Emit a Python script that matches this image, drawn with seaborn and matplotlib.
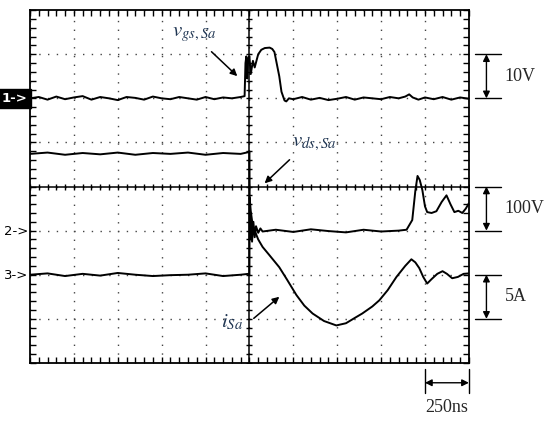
import numpy as np
import pandas as pd
import matplotlib
matplotlib.use('Agg')
import matplotlib.pyplot as plt
from matplotlib.ticker import MultipleLocator
import seaborn as sns

# oscilloscope traces, in screen divisions (x: -5..5, y: -4..4)
vgs_t = [-5.0, -4.8, -4.6, -4.4, -4.2, -4.0, -3.8, -3.6, -3.4, -3.2, -3.0, -2.8, -2.6,
         -2.4, -2.2, -2.0, -1.8, -1.6, -1.4, -1.2, -1.0, -0.8, -0.6, -0.4, -0.2,
         -0.11, -0.09, -0.07, -0.05, -0.03, 0.0, 0.03, 0.08, 0.12, 0.2, 0.27, 0.35,
         0.46, 0.52, 0.57, 0.62, 0.68, 0.73, 0.8, 0.84, 0.9, 1.0, 1.2, 1.4, 1.6, 1.8,
         2.0, 2.2, 2.4, 2.6, 2.8, 3.0, 3.2, 3.4, 3.55, 3.64, 3.72, 3.85, 4.0, 4.2,
         4.4, 4.6, 4.8, 5.0]
vgs_v = [2.0, 2.03, 1.97, 2.04, 1.98, 2.02, 2.05, 1.97, 2.03, 2.0, 1.96, 2.03, 2.01,
         1.97, 2.04, 2.0, 1.98, 2.03, 2.0, 1.97, 2.03, 1.98, 2.02, 2.0, 2.03,
         2.05, 2.8, 2.95, 2.45, 2.9, 2.95, 2.55, 2.85, 2.7, 3.0, 3.1, 3.14,
         3.15, 3.12, 3.05, 2.8, 2.5, 2.15, 1.95, 1.93, 2.0, 1.98, 2.03, 1.97, 2.01, 1.96,
         1.99, 2.03, 1.97, 2.02, 2.0, 1.98, 2.03, 2.0, 2.04, 2.09, 2.02, 1.97, 2.02, 1.98,
         2.03, 1.97, 2.02, 1.99]

vds_t = [-5.0, -4.6, -4.2, -3.8, -3.4, -3.0, -2.6, -2.2, -1.8, -1.4, -1.0, -0.6, -0.2,
         -0.02, 0.0, 0.01, 0.03, 0.06, 0.09, 0.12, 0.15, 0.2, 0.25, 0.3, 0.6, 1.0, 1.4,
         1.8, 2.2, 2.6, 3.0, 3.4, 3.58, 3.71, 3.78, 3.83, 3.88, 3.94, 4.0, 4.05, 4.15,
         4.26, 4.38, 4.49, 4.58, 4.67, 4.76, 4.85, 4.93, 5.0]
vds_v = [0.74, 0.77, 0.72, 0.76, 0.73, 0.77, 0.72, 0.76, 0.74, 0.77, 0.72, 0.76, 0.74,
         0.78, 0.8, -1.2, -0.7, -1.25, -0.8, -1.15, -0.9, -1.05, -0.95, -1.02, -0.98,
         -1.03, -0.97, -1.01, -1.04, -0.98, -1.02, -1.0, -0.98, -0.76, -0.1, 0.24, 0.15,
         -0.08, -0.45, -0.58, -0.6, -0.56, -0.35, -0.2, -0.4, -0.58, -0.55, -0.6, -0.5,
         -0.38]

i_t = [-5.0, -4.6, -4.2, -3.8, -3.4, -3.0, -2.6, -2.2, -1.8, -1.4, -1.0, -0.6, -0.2,
       -0.02, 0.0, 0.005, 0.03, 0.07, 0.12, 0.2, 0.3, 0.45, 0.68, 0.85, 1.07, 1.25,
       1.44, 1.7, 1.98, 2.2, 2.4, 2.57, 2.8, 2.96, 3.15, 3.35, 3.55, 3.69, 3.78, 3.87,
       3.96, 4.05, 4.15, 4.28, 4.4, 4.5, 4.62, 4.75, 4.88, 5.0]
i_v = [-2.0, -1.97, -2.03, -1.98, -2.02, -1.96, -2.0, -2.03, -2.01, -2.0, -1.97, -2.03,
       -2.0, -1.98, -2.0, -0.25, -0.55, -0.85, -1.0, -1.2, -1.37, -1.55, -1.83, -2.1,
       -2.46, -2.7, -2.88, -3.05, -3.15, -3.1, -2.98, -2.88, -2.72, -2.58, -2.35, -2.05,
       -1.8, -1.65, -1.72, -1.85, -2.05, -2.2, -2.1, -1.98, -1.92, -1.98, -2.08, -2.05,
       -1.98, -1.97]

traces = pd.concat([
    pd.DataFrame({'t': vgs_t, 'v': vgs_v, 'ch': 'vgs'}),
    pd.DataFrame({'t': vds_t, 'v': vds_v, 'ch': 'vds'}),
    pd.DataFrame({'t': i_t, 'v': i_v, 'ch': 'i'}),
])

sns.set_style('white')
plt.rcParams['mathtext.fontset'] = 'stix'
serif = ['Liberation Serif', 'DejaVu Serif']
lbl_col = '#1f3552'

fig = plt.figure(figsize=(5.5, 4.22), dpi=100)
ax = fig.add_axes([0.0545, 0.14, 0.798, 0.836])

sns.lineplot(data=traces, x='t', y='v', units='ch', estimator=None, sort=False,
             color='black', lw=1.4, ax=ax)

ax.set_xlim(-5, 5)
ax.set_ylim(-4, 4)
ax.set_xlabel('')
ax.set_ylabel('')
ax.xaxis.set_major_locator(MultipleLocator(1))
ax.yaxis.set_major_locator(MultipleLocator(1))
ax.xaxis.set_minor_locator(MultipleLocator(0.2))
ax.yaxis.set_minor_locator(MultipleLocator(0.2))
ax.tick_params(which='both', direction='in', top=True, right=True, bottom=True, left=True,
               length=4, width=1, labelbottom=False, labelleft=False, color='black')
ax.grid(True, which='major', color='#444444', linestyle=(0, (1, 5.3)), lw=1)
for s in ax.spines.values():
    s.set_color('black')
    s.set_linewidth(1.3)

# centre cross with small ticks
ax.axhline(0, color='black', lw=1.1)
ax.axvline(0, color='black', lw=1.1)
tk = np.arange(-5, 5.01, 0.2)
ax.plot(tk, np.zeros_like(tk), ls='none', marker='|', ms=5, mew=1, color='black')
tk = np.arange(-4, 4.01, 0.2)
ax.plot(np.zeros_like(tk), tk, ls='none', marker='_', ms=5, mew=1, color='black')

# trace labels
ax.text(-1.25, 3.46, r'$v_{gs,Sa}$', color=lbl_col, fontsize=15, ha='center', va='center')
ax.annotate('', xy=(-0.23, 2.46), xytext=(-0.91, 3.1),
            arrowprops=dict(arrowstyle='-|>', color='black', lw=1.1, mutation_scale=10))
ax.text(1.48, 0.99, r'$v_{ds,Sa}$', color=lbl_col, fontsize=15, ha='center', va='center')
ax.annotate('', xy=(0.3, 0.03), xytext=(0.96, 0.65),
            arrowprops=dict(arrowstyle='-|>', color='black', lw=1.1, mutation_scale=10))
ax.text(-0.39, -3.07, r'$i_{Sa}$', color=lbl_col, fontsize=15, ha='center', va='center')
ax.annotate('', xy=(0.73, -2.46), xytext=(0.05, -3.03),
            arrowprops=dict(arrowstyle='-|>', color='black', lw=1.1, mutation_scale=10))

# scale brackets on the right
scales = [(3, 2, '10V'), (0, -1, '100V'), (-2, -3, '5A')]
for top, bot, txt in scales:
    for yy in (top, bot):
        ax.plot([5.13, 5.74], [yy, yy], color='black', lw=1, clip_on=False)
    ax.annotate('', xy=(5.4, bot), xytext=(5.4, top),
                arrowprops=dict(arrowstyle='<|-|>', color='black', lw=1, mutation_scale=10,
                                shrinkA=0, shrinkB=0), annotation_clip=False)
    ax.text(5.82, (top + bot) / 2, txt, fontsize=13, family=serif, ha='left', va='center',
            clip_on=False)

# time scale bracket
for xx in (4.0, 5.0):
    ax.plot([xx, xx], [-4.13, -4.68], color='black', lw=1, clip_on=False)
ax.annotate('', xy=(5.0, -4.45), xytext=(4.0, -4.45),
            arrowprops=dict(arrowstyle='<|-|>', color='black', lw=1, mutation_scale=10,
                            shrinkA=0, shrinkB=0), annotation_clip=False)
ax.text(4.5, -5.02, '250ns', fontsize=13, family=serif, ha='center', va='center', clip_on=False)

# channel markers
fig.text(0.027, 1 - 98.5 / 422, '1->', color='white', fontsize=9.5, weight='bold',
         ha='center', va='center',
         bbox=dict(boxstyle='square,pad=0.25', fc='black', ec='black'))
fig.text(0.052, 1 - 231.5 / 422, '2->', color='black', fontsize=9.5, ha='right', va='center')
fig.text(0.052, 1 - 275.5 / 422, '3->', color='black', fontsize=9.5, ha='right', va='center')

fig.savefig('out.png', dpi=100)
